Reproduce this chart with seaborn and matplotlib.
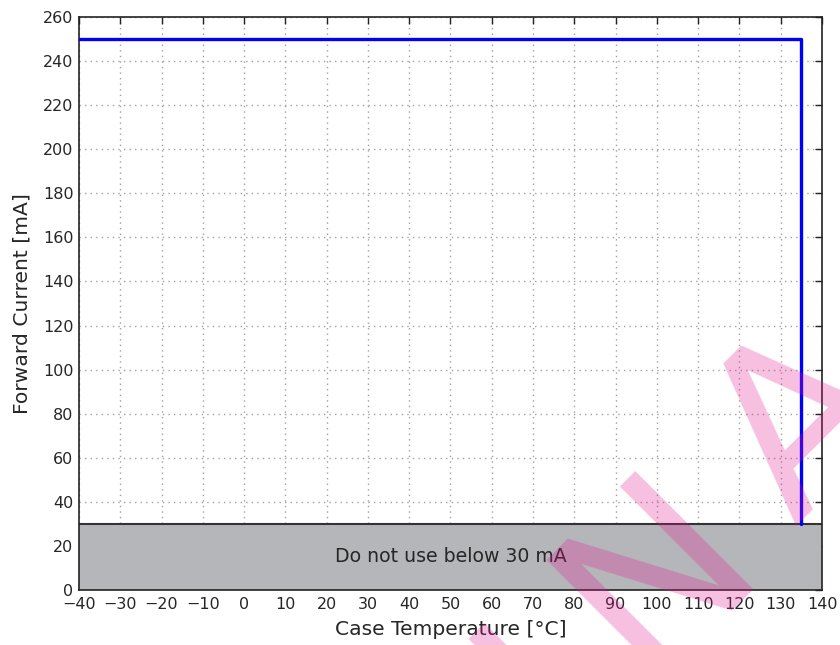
import numpy as np
import pandas as pd
import matplotlib
matplotlib.use("Agg")
import matplotlib.pyplot as plt
from matplotlib.font_manager import findfont, FontProperties
from matplotlib.ft2font import FT2Font
import seaborn as sns

# derating curve: forward current vs case temperature
temperature = [-40, 135, 135]
current = [250, 250, 30]
min_current = 30
note_text = "Do not use below 30 mA"
x_ticks = list(range(-40, 141, 10))
y_ticks = list(range(0, 261, 20))

df = pd.DataFrame({"temp": temperature, "current": current})

sns.set_style("white")
plt.rcParams["font.family"] = ["DejaVu Sans"]
plt.rcParams["xtick.direction"] = "in"
plt.rcParams["ytick.direction"] = "in"

W, H, DPI = 840, 645, 100
fig = plt.figure(figsize=(W / DPI, H / DPI), dpi=DPI)
ax = fig.add_axes([0.094, 0.0853, 0.8846, 0.8883])

# forbidden zone
ax.axhspan(0, min_current, color="#b5b6ba", zorder=1)
ax.axhline(min_current, color="#333333", lw=1.5, zorder=2)
ax.text(50, min_current / 2, note_text, ha="center", va="center",
        fontsize=13.6, color="#262626", zorder=3)

sns.lineplot(data=df, x="temp", y="current", sort=False, estimator=None,
             color="#0000ff", lw=2.4, ax=ax, zorder=4)

ax.set_xlim(-40, 140)
ax.set_ylim(0, 260)
ax.set_xticks(x_ticks)
ax.set_yticks(y_ticks)
ax.tick_params(labelsize=11.5, length=5, width=1, color="#222222",
               top=True, right=True, labelcolor="#262626", pad=4)
ax.tick_params(axis="x", pad=5)
ax.grid(True, linestyle=(0, (1, 3)), color="#a0a0a0", lw=1, zorder=0)
ax.set_axisbelow(True)
for sp in ax.spines.values():
    sp.set_color("#222222")
    sp.set_linewidth(1.2)
    sp.set_linestyle((0, (6, 1)))

ax.set_xlabel("Case Temperature [°C]", fontsize=14.6, color="#262626", labelpad=6)
ax.set_ylabel("Forward Current [mA]", fontsize=14.6, color="#262626", labelpad=8)

# watermark "PRELIMINARY", letter-spaced, rotated 45 deg
wm_text = "PRELIMINARY"
wm_size = 164
tracking = 44  # px
ft = FT2Font(findfont(FontProperties(family="DejaVu Sans")))
ft.set_size(wm_size, DPI)
adv = [ft.load_char(ord(c)).linearHoriAdvance / 65536 for c in wm_text]
ang = np.deg2rad(45)
ox, oy = 643, H - 678  # baseline origin of the "N"
k0 = wm_text.index("N")
for k, ch in enumerate(wm_text):
    if k >= k0:
        s = sum(a + tracking for a in adv[k0:k])
    else:
        s = -sum(a + tracking for a in adv[k:k0])
    fig.text((ox + s * np.cos(ang)) / W, (oy + s * np.sin(ang)) / H, ch,
             rotation=45, rotation_mode="anchor", ha="left", va="baseline",
             fontsize=wm_size, color="#e21790", alpha=0.28, zorder=10)

fig.savefig("out.png", dpi=DPI)
